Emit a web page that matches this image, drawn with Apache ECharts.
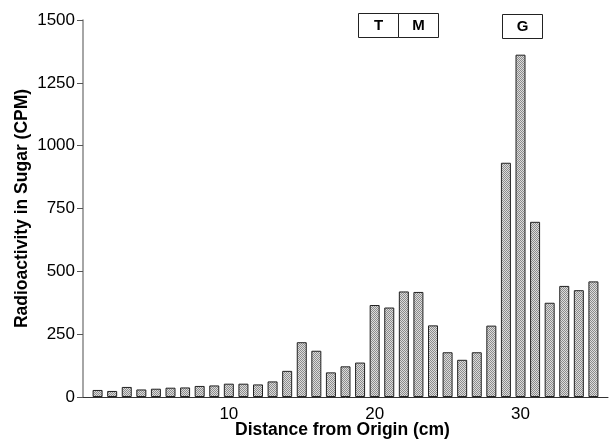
<!DOCTYPE html>
<html>
<head>
<meta charset="utf-8">
<script src="https://cdn.jsdelivr.net/npm/echarts@6/dist/echarts.min.js"></script>
<style>
  html, body { margin: 0; padding: 0; background: #fff; }
  #chart { width: 610px; height: 442px; }
</style>
</head>
<body>
<div id="chart"></div>
<script>
  // distance from origin (cm) and counts per minute
  var distances = [];
  for (var d = 1; d <= 35; d++) distances.push(d);
  var cpm = [28, 24, 40, 30, 33, 37, 38, 44, 46, 53, 53, 50, 62, 104, 218, 184, 98, 122, 137,
             366, 356, 420, 418, 285, 178, 148, 178, 284, 932, 1362, 697, 375, 442, 425, 460];
  var yTicks = [0, 250, 500, 750, 1000, 1250, 1500];
  var markerLabels = ['T', 'M', 'G'];

  // checkered grey fill like the printed bars
  function makePattern() {
    var c = document.createElement('canvas');
    c.width = 2; c.height = 2;
    var ctx = c.getContext('2d');
    ctx.fillStyle = '#dcdcdc';
    ctx.fillRect(0, 0, 2, 2);
    ctx.fillStyle = '#8c8c8c';
    ctx.fillRect(0, 0, 1, 1);
    ctx.fillRect(1, 1, 1, 1);
    return c;
  }

  var pairs = distances.map(function (x, i) { return [x, cpm[i]]; });
  var font = 'Liberation Sans, Arial, sans-serif';

  function box(x, y, w, h, label) {
    return {
      type: 'group', left: x, top: y,
      children: [
        { type: 'rect', shape: { x: 0, y: 0, width: w, height: h },
          style: { fill: '#fff', stroke: '#222', lineWidth: 1 } },
        { type: 'text', x: w / 2, y: h / 2,
          style: { text: label, fontFamily: font, fontWeight: 'bold', fontSize: 15,
                   fill: '#000', align: 'center', verticalAlign: 'middle' } }
      ]
    };
  }

  var chart = echarts.init(document.getElementById('chart'));
  chart.setOption({
    animation: false,
    grid: { left: 83, right: 2, top: 20, bottom: 45, outerBoundsMode: 'none' },
    xAxis: {
      type: 'value',
      min: 0, max: 36, interval: 10,
      name: 'Distance from Origin (cm)',
      nameLocation: 'middle',
      nameGap: 24,
      nameMoveOverlap: false,
      nameTextStyle: { fontFamily: font, fontWeight: 'bold', fontSize: 17.5, color: '#000', padding: [0, 6, 0, 0] },
      axisLine: { lineStyle: { color: '#333', width: 1 } },
      axisTick: { show: false },
      splitLine: { show: false },
      axisLabel: {
        fontFamily: font, fontSize: 17, color: '#000', margin: 9,
        showMinLabel: false, showMaxLabel: false,
        formatter: function (v) { return v === 0 ? '' : String(v); }
      }
    },
    yAxis: {
      type: 'value',
      min: 0, max: 1500, interval: 250,
      name: 'Radioactivity in Sugar (CPM)',
      nameLocation: 'middle',
      nameGap: 52,
      nameMoveOverlap: false,
      nameTextStyle: { fontFamily: font, fontWeight: 'bold', fontSize: 17.5, color: '#000' },
      axisLine: { show: true, lineStyle: { color: '#888', width: 1.5 } },
      axisTick: { show: true, length: 6, lineStyle: { color: '#555' } },
      splitLine: { show: false },
      axisLabel: { fontFamily: font, fontSize: 17, color: '#000', margin: 8,
        formatter: function (v) { return String(v); } }
    },
    series: [{
      type: 'bar',
      data: pairs,
      barWidth: 10,
      itemStyle: {
        color: { image: makePattern(), repeat: 'repeat' },
        borderColor: '#222',
        borderWidth: 1
      }
    }],
    graphic: [
      box(358, 13, 40, 24, markerLabels[0]),
      box(398, 13, 40, 24, markerLabels[1]),
      box(502, 14, 40, 24, markerLabels[2])
    ]
  });
</script>
</body>
</html>
